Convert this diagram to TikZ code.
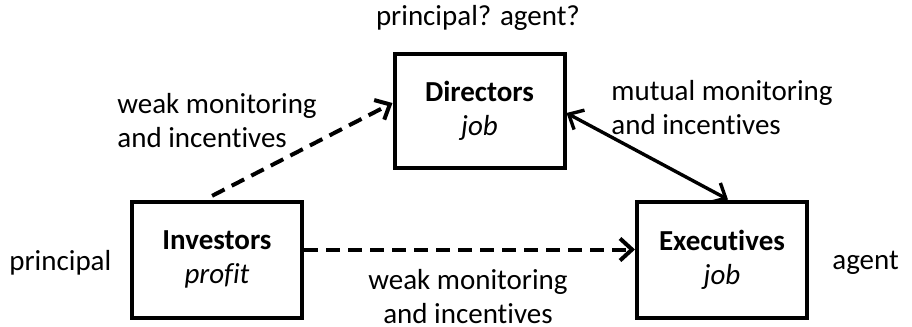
\documentclass[tikz,border=0pt]{standalone}
\usepackage{fontspec}
\setmainfont[Ligatures=NoCommon]{Carlito}
\usetikzlibrary{arrows.meta}
\begin{document}
\begin{tikzpicture}[x=0.5pt,y=-0.5pt,
  every node/.style={font=\fontsize{14.5pt}{17pt}\selectfont, inner sep=0pt},
  actor/.style={draw, line width=2pt, minimum width=85pt, minimum height=57pt, align=center},
  lbl/.style={align=left},
  weak/.style={line width=2pt, dash pattern=on 7pt off 4pt, -{Straight Barb[length=6pt,width=11pt]}},
  mutual/.style={line width=1.7pt, {Straight Barb[length=6pt,width=11pt]}-{Straight Barb[length=6pt,width=11pt]}}
]
\useasboundingbox (0,0) rectangle (912,327);
\node[actor] (dir) at (479.5,111) {\textbf{Directors}\\\textit{job}};
\node[actor, minimum height=58pt] (inv) at (217,259.5) {\textbf{Investors}\\\textit{profit}};
\node[actor, minimum height=58pt] (exe) at (722,259.5) {\textbf{Executives}\\\textit{job}};
\node (top) at (478,18) {principal? agent?};
\node[lbl, anchor=west] (wl) at (117,121) {weak monitoring\\and incentives};
\node[lbl, anchor=west] (ml) at (611,108) {mutual monitoring\\and incentives};
\node[align=center] (wb) at (468,297) {weak monitoring\\and incentives};
\node[anchor=west] (pr) at (9,263) {principal};
\node[anchor=west] (ag) at (832,263) {agent};
\draw[weak, shorten <=4pt] ([xshift=-6pt]inv.north) -- ([yshift=4pt]dir.west);
\draw[weak] ([yshift=5pt]inv.east) -- ([yshift=5pt]exe.west);
\draw[mutual] ([yshift=-1pt]dir.east) -- ([xshift=3pt]exe.north);
\end{tikzpicture}
\end{document}
